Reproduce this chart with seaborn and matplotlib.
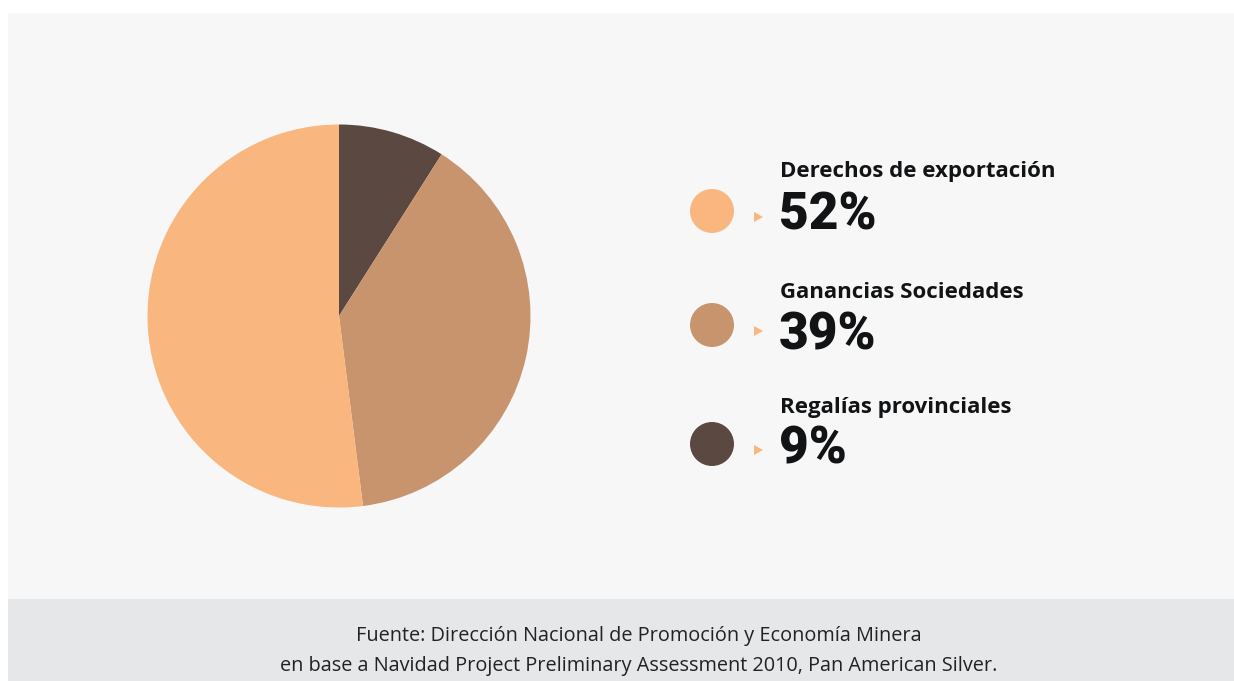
import matplotlib
matplotlib.use("Agg")
import matplotlib.pyplot as plt
from matplotlib.patches import Rectangle, Circle, Polygon
import seaborn as sns

# Distribución de la recaudación
categorias = ["Regalías provinciales", "Ganancias Sociedades", "Derechos de exportación"]
valores = [9, 39, 52]
colores = ["#5B4840", "#C8946D", "#F9B77F"]

# Orden de la leyenda (de arriba hacia abajo)
orden_leyenda = ["Derechos de exportación", "Ganancias Sociedades", "Regalías provinciales"]

fuente_lineas = [
    "Fuente: Dirección Nacional de Promoción y Economía Minera",
    "en base a Navidad Project Preliminary Assessment 2010, Pan American Silver.",
]

sns.set_theme(style="white")
plt.rcParams["font.family"] = ["Open Sans", "DejaVu Sans"]

W, H = 1234, 681
fig = plt.figure(figsize=(W / 100, H / 100), dpi=100)
fig.patch.set_facecolor("white")

# Capa en coordenadas de píxel para fondos, leyenda y textos
bg = fig.add_axes([0, 0, 1, 1])
bg.set_xlim(0, W)
bg.set_ylim(H, 0)
bg.axis("off")
bg.add_patch(Rectangle((8, 13), W - 8, 586, color="#F7F7F7", lw=0, zorder=0))
bg.add_patch(Rectangle((8, 599), W - 8, H - 599, color="#E6E7E8", lw=0, zorder=0))

# Torta
cx, cy, r = 339, 316, 191.5
ax = fig.add_axes([(cx - r) / W, 1 - (cy + r) / H, 2 * r / W, 2 * r / H])
ax.pie(valores, colors=colores, startangle=90, counterclock=False,
       wedgeprops=dict(linewidth=0))
ax.set_xlim(-1, 1)
ax.set_ylim(-1, 1)
ax.set_aspect("equal")
ax.axis("off")

# Leyenda
col_map = dict(zip(categorias, colores))
val_map = dict(zip(categorias, valores))
filas = [(211, 177, 230), (325, 298, 349), (444, 413, 463)]
texto = "#111315"
for nombre, (yc, yt, yp) in zip(orden_leyenda, filas):
    bg.add_patch(Circle((712, yc), 22, color=col_map[nombre], lw=0, zorder=2))
    ty = yc + 6
    bg.add_patch(Polygon([(754, ty - 5), (754, ty + 5), (763, ty)], closed=True,
                         color="#F9B77F", lw=0, zorder=2))
    bg.text(780, yt, nombre, fontsize=16, fontweight="bold", color=texto,
            ha="left", va="baseline")
    bg.text(779, yp, f"{val_map[nombre]}%", fontsize=37, fontweight="black",
            fontstyle="normal", family=["Roboto", "DejaVu Sans"],
            color=texto, ha="left", va="baseline")

# Fuente
bg.text(639, 641, fuente_lineas[0], fontsize=14.3, color="#222222",
        ha="center", va="baseline")
bg.text(639, 671, fuente_lineas[1], fontsize=14.3, color="#222222",
        ha="center", va="baseline")

fig.savefig("out.png", dpi=100, facecolor="white")
